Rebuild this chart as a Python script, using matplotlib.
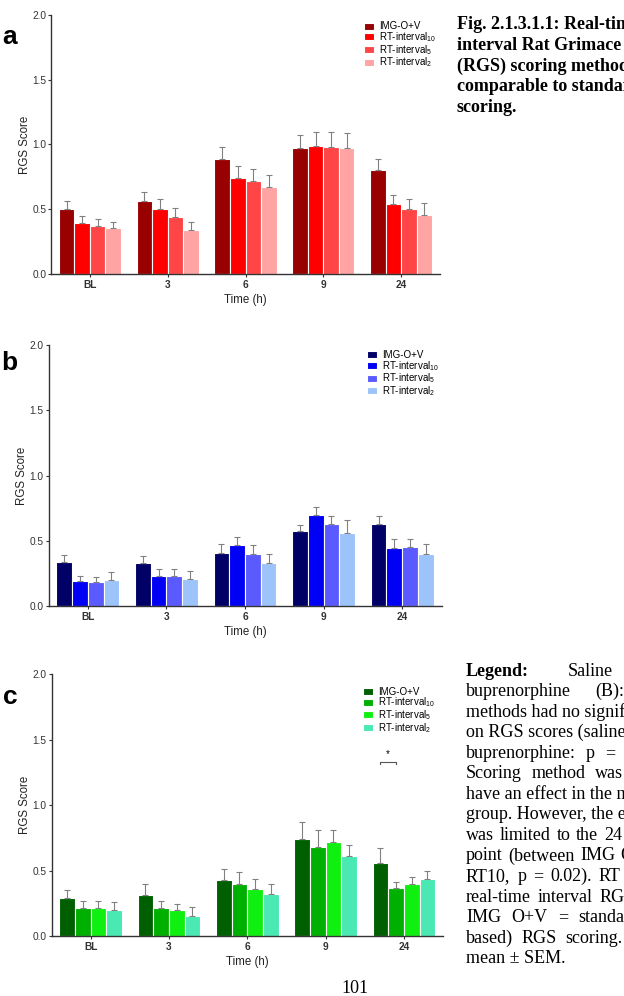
import numpy as np
import matplotlib
matplotlib.use("Agg")
import matplotlib.pyplot as plt

plt.rcParams["font.family"] = ["Liberation Sans", "DejaVu Sans"]
plt.rcParams["mathtext.default"] = "regular"

W, H = 624, 996

# ── Data ─────────────────────────────────────────────────────────────────────
times = ["BL", "3", "6", "9", "24"]
methods = ["IMG-O+V", "RT-interval$_{10}$", "RT-interval$_{5}$", "RT-interval$_{2}$"]

# panel a – means and SEM
a_img   = [0.50, 0.56, 0.885, 0.97, 0.80]
a_rt10  = [0.39, 0.505, 0.742, 0.988, 0.541]
a_rt5   = [0.368, 0.44, 0.72, 0.983, 0.50]
a_rt2   = [0.353, 0.336, 0.674, 0.975, 0.458]
a_img_sem  = [0.06, 0.07, 0.098, 0.10, 0.09]
a_rt10_sem = [0.06, 0.075, 0.094, 0.11, 0.07]
a_rt5_sem  = [0.054, 0.072, 0.088, 0.116, 0.077]
a_rt2_sem  = [0.045, 0.064, 0.088, 0.116, 0.093]

# panel b
b_img   = [0.335, 0.33, 0.404, 0.577, 0.631]
b_rt10  = [0.192, 0.23, 0.465, 0.697, 0.444]
b_rt5   = [0.184, 0.227, 0.398, 0.628, 0.455]
b_rt2   = [0.202, 0.207, 0.33, 0.562, 0.398]
b_img_sem  = [0.056, 0.056, 0.074, 0.041, 0.061]
b_rt10_sem = [0.038, 0.051, 0.066, 0.059, 0.072]
b_rt5_sem  = [0.041, 0.054, 0.072, 0.064, 0.061]
b_rt2_sem  = [0.056, 0.059, 0.066, 0.10, 0.08]

# panel c
c_img   = [0.288, 0.311, 0.425, 0.744, 0.555]
c_rt10  = [0.217, 0.211, 0.395, 0.678, 0.369]
c_rt5   = [0.211, 0.196, 0.357, 0.716, 0.395]
c_rt2   = [0.199, 0.153, 0.318, 0.614, 0.433]
c_img_sem  = [0.064, 0.086, 0.09, 0.127, 0.118]
c_rt10_sem = [0.053, 0.054, 0.097, 0.13, 0.041]
c_rt5_sem  = [0.059, 0.051, 0.076, 0.097, 0.056]
c_rt2_sem  = [0.058, 0.066, 0.082, 0.084, 0.061]

reds   = ["#990000", "#ff0000", "#ff4545", "#ffa3a3"]
blues  = ["#000066", "#0000f5", "#5a5aff", "#9cc4fa"]
greens = ["#005f00", "#00b000", "#10f010", "#4ae8b2"]


def fx(px): return px / W
def fy(py): return 1 - py / H


fig = plt.figure(figsize=(W / 100, H / 100), dpi=100, facecolor="white")


def panel(left, right, top, bottom, means, sems, colors, letter, letter_xy, leg_xy, sig=None):
    ax = fig.add_axes([fx(left), fy(bottom), (right - left) / W, (bottom - top) / H])
    x = np.arange(len(times))
    bw = 0.2
    offs = (np.arange(4) - 1.5) * bw
    for m, s, c, lab, o in zip(means, sems, colors, methods, offs):
        ax.bar(x + o, m, width=bw, color=c, edgecolor="white", linewidth=0.8,
               yerr=[np.zeros(len(s)), s], label=lab,
               error_kw=dict(ecolor="#808080", elinewidth=0.8, capsize=2.2, capthick=0.8))
    ax.set_xlim(-0.5, 4.5)
    ax.set_ylim(0, 2.0)
    ax.set_yticks([0, 0.5, 1.0, 1.5, 2.0])
    ax.set_yticklabels([f"{v:.1f}" for v in [0, 0.5, 1.0, 1.5, 2.0]], fontsize=7.3, color="#333333")
    ax.set_xticks(x)
    ax.set_xticklabels(times, fontsize=7.3, fontweight="bold", color="#222222")
    ax.tick_params(axis="y", length=2.5, width=0.8, pad=1, colors="#333333")
    ax.tick_params(axis="x", length=2.5, width=0.8, pad=2, colors="#333333")
    for sp in ("top", "right"):
        ax.spines[sp].set_visible(False)
    for sp in ("left", "bottom"):
        ax.spines[sp].set_color("#333333")
        ax.spines[sp].set_linewidth(1.0)
    ax.set_ylabel("RGS Score", fontsize=8.3, labelpad=1, color="#222222")
    ax.set_xlabel("Time (h)", fontsize=8.3, labelpad=3, color="#222222")
    ax.legend(loc="upper left", bbox_to_anchor=leg_xy, frameon=False, fontsize=7,
              handlelength=1.05, handleheight=0.75, handletextpad=0.5,
              labelspacing=-0.12, borderpad=0, borderaxespad=0)
    fig.text(fx(letter_xy[0]), fy(letter_xy[1]), letter, fontsize=19, fontweight="bold",
             ha="left", va="baseline")
    if sig is not None:
        i, y = sig
        x0, x1 = i + offs[0], i + offs[1]
        ax.plot([x0, x0, x1, x1], [y - 0.02, y, y, y - 0.02], color="#555555", lw=0.8)
        ax.text((x0 + x1) / 2, y + 0.02, "*", ha="center", va="bottom", fontsize=7)
    return ax


panel(51, 440, 15, 274,
      [a_img, a_rt10, a_rt5, a_rt2], [a_img_sem, a_rt10_sem, a_rt5_sem, a_rt2_sem],
      reds, "a", (2, 44), (0.805, 0.975))
panel(48.5, 441.5, 345, 606,
      [b_img, b_rt10, b_rt5, b_rt2], [b_img_sem, b_rt10_sem, b_rt5_sem, b_rt2_sem],
      blues, "b", (1, 370), (0.81, 0.98))
panel(51.5, 443, 674.3, 936,
      [c_img, c_rt10, c_rt5, c_rt2], [c_img_sem, c_rt10_sem, c_rt5_sem, c_rt2_sem],
      greens, "c", (3, 704), (0.795, 0.952), sig=(4, 1.333))

# ── Page text (clipped at the right edge like the scan) ──────────────────────
serif = ["Liberation Serif", "DejaVu Serif"]
title_lines = ["Fig. 2.1.3.1.1: Real-time", "interval Rat Grimace Scale",
               "(RGS) scoring methods are", "comparable to standard RGS", "scoring."]
for i, line in enumerate(title_lines):
    fig.text(fx(456.7), fy(29.3 + 20.7 * i), line, family=serif, fontsize=13,
             fontweight="bold", ha="left", va="baseline")

renderer = fig.canvas.get_renderer()

# (words, anchor word index, anchor x in px) – None = plain line
legend_lines = [
    (["Legend:", "Saline", "(S)"], 1, 567.7),
    (["buprenorphine", "(B):", "Scoring"], 1, 595),
    ("methods had no significant effect", None, None),
    ("on RGS scores (saline: p = 0.35;", None, None),
    (["buprenorphine:", "p", "=", "0.08)."], 2, 605),
    (["Scoring", "method", "was", "found"], 2, 594.7),
    ("have an effect in the morphine", None, None),
    ("group. However, the effect", None, None),
    (["was", "limited", "to", "the", "24", "h"], 4, 604),
    (["point", "(between", "IMG", "O+V"], 2, 580),
    (["RT10,", "p", "=", "0.02).", "RT", "="], 4, 599),
    (["real-time", "interval", "RGS"], 2, 600),
    (["IMG", "O+V", "=", "standard"], 3, 578),
    (["based)", "RGS", "scoring.", "Data"], 2, 565),
    ("mean ± SEM.", None, None),
]
x0 = 466
for i, (words, k, xa) in enumerate(legend_lines):
    yb = fy(675.5 + 20.55 * i)
    if k is None:
        fig.text(fx(x0), yb, words, family=serif, fontsize=13, ha="left", va="baseline")
        continue
    texts = []
    for j, w in enumerate(words):
        bold = (i == 0 and j == 0)
        texts.append(fig.text(0, yb, w, family=serif, fontsize=13, ha="left", va="baseline",
                              fontweight="bold" if bold else "normal"))
    widths = [t.get_window_extent(renderer).width for t in texts]
    gap = (xa - x0 - sum(widths[:k])) / k
    xp = x0
    for t, wd in zip(texts, widths):
        t.set_x(fx(xp))
        xp += wd + gap

fig.text(fx(355), fy(993), "101", family=serif, fontsize=13, ha="center", va="baseline")

fig.savefig("out.png", dpi=100, facecolor="white")
